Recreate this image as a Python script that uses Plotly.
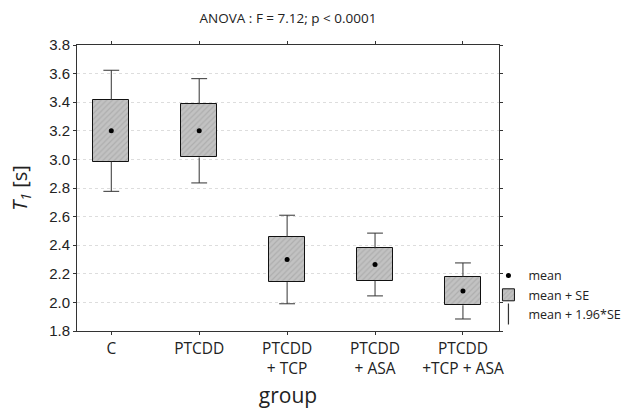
import plotly.graph_objects as go

# Group labels and summary statistics of T1 per group
groups = ["C", "PTCDD", "PTCDD<br>+ TCP", "PTCDD<br>+ ASA", "PTCDD<br>+TCP + ASA"]
means = [3.20, 3.20, 2.30, 2.265, 2.08]
se = [0.216, 0.186, 0.158, 0.112, 0.100]
z_factor = 1.96

y_ticks = [1.8, 2.0, 2.2, 2.4, 2.6, 2.8, 3.0, 3.2, 3.4, 3.6, 3.8]

FONT = "Open Sans"
NUM_FONT = "Liberation Sans"
INK = "#222222"

xs = list(range(len(groups)))
box_low = [m - s for m, s in zip(means, se)]
box_high = [m + s for m, s in zip(means, se)]
wh_low = [m - z_factor * s for m, s in zip(means, se)]
wh_high = [m + z_factor * s for m, s in zip(means, se)]

# whisker stems (outside the boxes) and caps
cap = 0.09
wx, wy = [], []
for x, bl, bh, lo, hi in zip(xs, box_low, box_high, wh_low, wh_high):
    wx += [x, x, None, x - cap, x + cap, None, x, x, None, x - cap, x + cap, None]
    wy += [bh, hi, None, hi, hi, None, bl, lo, None, lo, lo, None]

fig = go.Figure()

fig.add_trace(go.Scatter(
    x=wx, y=wy, mode="lines", line=dict(color="#333333", width=1),
    showlegend=False, hoverinfo="skip",
))

fig.add_trace(go.Bar(
    x=xs, y=[h - l for h, l in zip(box_high, box_low)], base=box_low,
    width=0.41, name="mean + SE",
    marker=dict(
        color="#bdbdbd",
        line=dict(color="#111111", width=1),
        pattern=dict(shape="/", fgcolor="#999999", bgcolor="#c2c2c2",
                     size=4, solidity=0.3),
    ),
    legendrank=2,
))

fig.add_trace(go.Scatter(
    x=xs, y=means, mode="markers", name="mean",
    marker=dict(color="black", size=5),
    legendrank=1,
))

# legend-only entry for the 1.96*SE whiskers
fig.add_trace(go.Scatter(
    x=[None], y=[None], mode="markers", name="mean + 1.96*SE",
    marker=dict(symbol="line-ns-open", size=15, color="#333333",
                line=dict(width=1.2, color="#333333")),
    legendrank=3,
))

fig.update_layout(
    width=640, height=414,
    margin=dict(l=77, r=141, t=45, b=83),
    paper_bgcolor="white", plot_bgcolor="white",
    font=dict(family=FONT, color=INK, size=15),
    title=dict(text="ANOVA : F = 7.12; p < 0.0001", x=(77 + 499) / 2 / 640,
               xanchor="center", y=1 - 18 / 414, yanchor="middle",
               font=dict(size=13.5, family=FONT, color=INK)),
    bargap=0,
    showlegend=True,
    legend=dict(x=0.975, xanchor="left", y=0.245, yanchor="top",
                font=dict(size=12.5, family=FONT, color=INK),
                bgcolor="rgba(0,0,0,0)", itemwidth=30,
                traceorder="normal", tracegroupgap=0),
)

fig.update_xaxes(
    range=[-0.39, 4.41], tickmode="array", tickvals=xs, ticktext=groups,
    showline=True, linecolor="#333333", linewidth=1, mirror="ticks",
    ticks="outside", ticklen=3, tickcolor="#333333",
    showgrid=False, zeroline=False,
    tickfont=dict(size=15.5, family=FONT, color=INK),
    title=dict(text="group", font=dict(size=21, family=FONT, color=INK), standoff=10),
)
fig.update_yaxes(
    range=[1.8, 3.8], tickmode="array", tickvals=y_ticks,
    ticktext=[f"{v:.1f}" for v in y_ticks],
    showline=True, linecolor="#333333", linewidth=1, mirror="ticks",
    ticks="outside", ticklen=3, tickcolor="#333333",
    showgrid=True, gridcolor="#dddddd", griddash="dot", gridwidth=1,
    zeroline=False,
    tickfont=dict(size=15, family=NUM_FONT, color=INK),
    title=dict(text="<i>T<sub>1</sub></i> [s]", font=dict(size=20, family=FONT, color=INK),
               standoff=16),
)

fig.write_html("out.html")
